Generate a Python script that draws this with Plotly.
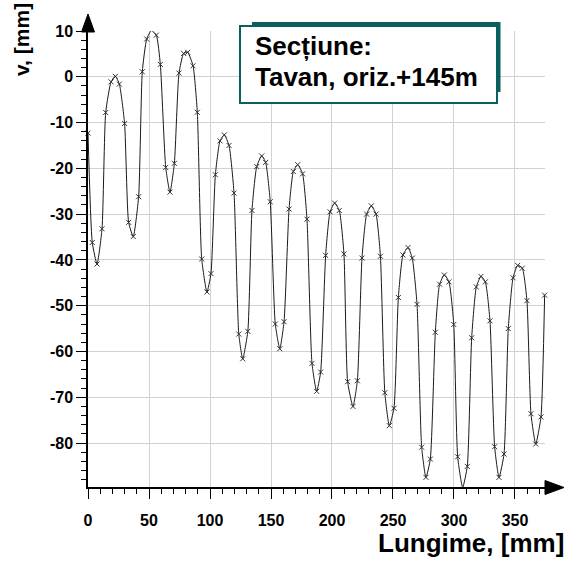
import plotly.graph_objects as go

# ---- data ----
lungime = [0.0, 3.5, 7.4, 11.5, 14.5, 18.9, 22.4, 25.7, 30.0, 33.3, 37.1, 41.5,
           44.5, 48.1, 51.9, 56.0, 59.3, 63.7, 67.2, 70.8, 74.6, 78.4, 81.7, 86.1,
           89.6, 93.2, 97.5, 100.8, 104.4, 108.2, 111.7, 115.6, 119.7, 123.6, 126.8, 131.0,
           134.4, 138.3, 142.4, 145.6, 149.4, 153.5, 157.2, 160.7, 164.8, 168.3, 171.9, 175.9,
           179.5, 183.6, 187.4, 190.7, 194.8, 198.4, 202.2, 206.0, 209.8, 212.8, 217.2, 220.8,
           224.6, 228.4, 232.2, 236.1, 239.7, 243.3, 247.0, 250.8, 254.4, 258.2, 262.3, 265.8,
           269.7, 273.5, 277.0, 280.6, 284.7, 288.2, 292.1, 295.9, 299.8, 303.0, 307.1, 310.9,
           314.5, 318.3, 322.1, 325.7, 329.5, 333.3, 336.9, 341.0, 344.5, 348.4, 352.2, 356.0,
           359.8, 363.1, 367.0, 371.3, 374.3]
v_mm = [-12.3, -36.2, -40.9, -33.2, -7.8, -1.1, 0.1, -1.6, -10.2, -31.8, -34.9, -26.2,
        1.1, 8.25, 10.1, 9.1, 2.7, -19.8, -25.2, -18.9, 0.8, 5.1, 5.35, 2.4,
        -7.75, -39.8, -47.0, -43.0, -21.4, -14.0, -12.7, -15.0, -25.4, -56.2, -61.6, -55.6,
        -29.2, -19.6, -17.3, -18.7, -27.3, -54.0, -59.4, -53.5, -28.9, -20.7, -19.2, -21.2,
        -31.1, -62.6, -68.7, -64.5, -39.0, -29.5, -27.6, -29.2, -38.7, -66.6, -72.0, -66.4,
        -39.6, -30.0, -28.2, -30.0, -39.2, -69.0, -76.2, -72.4, -48.2, -38.9, -37.3, -39.6,
        -49.7, -80.9, -87.5, -83.5, -55.8, -45.3, -43.3, -44.8, -54.1, -83.0, -89.7, -85.1,
        -57.0, -45.9, -43.6, -44.8, -53.3, -80.8, -87.5, -82.4, -55.0, -43.9, -41.2, -41.8,
        -48.9, -73.6, -80.2, -74.3, -47.7]

x_tickvals = [0, 50, 100, 150, 200, 250, 300, 350]
x_ticktext = ["0", "50", "100", "150", "200", "250", "300", "350"]
y_tickvals = [10, 0, -10, -20, -30, -40, -50, -60, -70, -80]
y_ticktext = ["10", "0", "-10", "-20", "-30", "-40", "-50", "-60", "-70", "-80"]

x_title = "Lungime, [mm]"
y_title = "v, [mm]"
box_line1 = "Secțiune:"
box_line2 = "Tavan, oriz.+145m"

# ---- layout geometry (pixels) ----
W, H = 568, 567
L, R, T, B = 88, 23, 31, 80
pw, ph = W - L - R, H - T - B


def px(xp):
    return (xp - L) / pw


def py(yp):
    return (H - B - yp) / ph


FONT = "Liberation Sans, Arial, sans-serif"
TEAL = "#0b5f5e"

fig = go.Figure()
fig.add_trace(go.Scatter(
    x=lungime, y=v_mm, mode="lines+markers",
    line=dict(color="#1a1a1a", width=1, shape="spline", smoothing=0.5),
    marker=dict(symbol="x-thin", size=5, color="#333333",
                line=dict(width=1, color="#333333")),
    cliponaxis=False, showlegend=False, hoverinfo="skip"))

axis_common = dict(
    showline=True, linecolor="black", linewidth=1.5,
    ticks="outside", ticklen=10, tickwidth=1, tickcolor="black",
    showgrid=True, gridcolor="#d2d2d2", gridwidth=1, zeroline=False,
    tickfont=dict(family=FONT, size=16, color="black", weight="bold"),
)

fig.update_layout(
    width=W, height=H, autosize=False,
    margin=dict(l=L, r=R, t=T, b=B, pad=0),
    paper_bgcolor="white", plot_bgcolor="white",
    xaxis=dict(range=[0, 374.6], tickmode="array", tickvals=x_tickvals,
               ticktext=x_ticktext, ticklabelstandoff=8,
               minor=dict(tick0=0, dtick=10, ticks="outside", ticklen=5,
                          tickcolor="black", showgrid=False),
               **axis_common),
    yaxis=dict(range=[-89.6, 10], tickmode="array", tickvals=y_tickvals,
               ticktext=y_ticktext,
               minor=dict(tick0=0, dtick=2, ticks="outside", ticklen=5,
                          tickcolor="black", showgrid=False),
               **axis_common),
)

shapes = []
# y-axis arrow
shapes.append(dict(type="path", xref="paper", yref="paper",
                   path=f"M {px(81.5)} {py(32)} L {px(94.5)} {py(32)} L {px(88)} {py(14)} Z",
                   fillcolor="black", line=dict(color="black", width=1)))
# x-axis arrow
shapes.append(dict(type="path", xref="paper", yref="paper",
                   path=f"M {px(545)} {py(480.5)} L {px(545)} {py(494.5)} L {px(564)} {py(487.5)} Z",
                   fillcolor="black", line=dict(color="black", width=1)))
# box shadow
shapes.append(dict(type="rect", xref="paper", yref="paper",
                   x0=px(252), x1=px(500.5), y0=py(92), y1=py(22),
                   fillcolor=TEAL, line=dict(width=0)))
# box
shapes.append(dict(type="rect", xref="paper", yref="paper",
                   x0=px(240), x1=px(497), y0=py(103), y1=py(26),
                   fillcolor="white", line=dict(color=TEAL, width=2)))
fig.update_layout(shapes=shapes)

ann_font = dict(family=FONT, size=26, color="black", weight="bold")
fig.add_annotation(x=px(253), y=py(46), xref="paper", yref="paper",
                   text=box_line1, showarrow=False, xanchor="left", yanchor="middle",
                   font=ann_font)
fig.add_annotation(x=px(253), y=py(77), xref="paper", yref="paper",
                   text=box_line2, showarrow=False, xanchor="left", yanchor="middle",
                   font=ann_font)
fig.add_annotation(x=px(566), y=py(543), xref="paper", yref="paper",
                   text=x_title, showarrow=False, xanchor="right", yanchor="middle",
                   font=dict(family=FONT, size=26, color="black", weight="bold"))
fig.add_annotation(x=px(21), y=py(40), xref="paper", yref="paper",
                   text=y_title, showarrow=False, textangle=-90,
                   xanchor="center", yanchor="middle",
                   font=dict(family=FONT, size=21, color="black", weight="bold"))

fig.write_html("out.html")
